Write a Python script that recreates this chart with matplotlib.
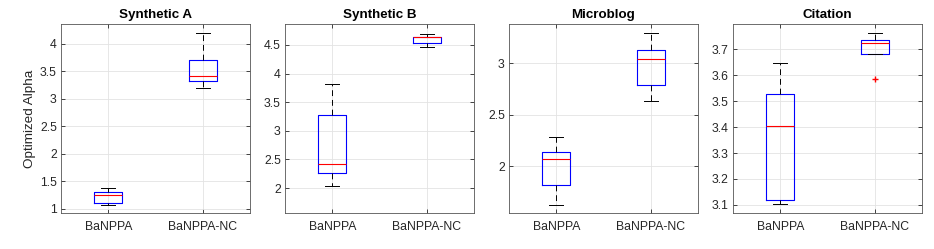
import matplotlib
matplotlib.use("Agg")
import matplotlib.pyplot as plt

plt.rcParams['font.family'] = ['Liberation Sans', 'DejaVu Sans']

titles = ["Synthetic A", "Synthetic B", "Microblog", "Citation"]
methods = ["BaNPPA", "BaNPPA-NC"]

# per panel: [BaNPPA, BaNPPA-NC]
whislo = [[1.073, 3.194], [2.029, 4.465], [1.625, 2.634], [3.103, 3.683]]
q1     = [[1.097, 3.333], [2.262, 4.529], [1.816, 2.790], [3.119, 3.683]]
med    = [[1.242, 3.424], [2.424, 4.634], [2.074, 3.039], [3.403, 3.723]]
q3     = [[1.303, 3.703], [3.279, 4.645], [2.142, 3.133], [3.529, 3.737]]
whishi = [[1.370, 4.206], [3.814, 4.686], [2.285, 3.298], [3.646, 3.764]]
fliers = [[[], []], [[], []], [[], []], [[], [3.587]]]

ylims = [(0.921, 4.364), (1.564, 4.866), (1.544, 3.382), (3.069, 3.797)]
yticks = [[1, 1.5, 2, 2.5, 3, 3.5, 4],
          [2, 2.5, 3, 3.5, 4, 4.5],
          [2, 2.5, 3],
          [3.1, 3.2, 3.3, 3.4, 3.5, 3.6, 3.7]]

fig = plt.figure(figsize=(9.34, 2.49), dpi=100)
lefts = [61, 285, 509, 733]
W, H = 934, 249
axc = '#262626'
for i in range(4):
    ax = fig.add_axes([lefts[i] / W, 1 - 213 / H, 189 / W, (213 - 24) / H])
    stats = []
    for j in range(2):
        stats.append(dict(whislo=whislo[i][j], q1=q1[i][j], med=med[i][j],
                          q3=q3[i][j], whishi=whishi[i][j], fliers=fliers[i][j],
                          label=methods[j]))
    ax.bxp(stats, positions=[1, 2], widths=0.3, capwidths=0.15,
           boxprops=dict(color='#0000ff', linewidth=0.8),
           medianprops=dict(color='#ff0000', linewidth=0.8),
           whiskerprops=dict(color='black', linewidth=0.7, linestyle=(0, (6, 4))),
           capprops=dict(color='black', linewidth=0.7),
           flierprops=dict(marker='+', markeredgecolor='#ff0000', markersize=5,
                           linestyle='none'))
    ax.set_xlim(0.5, 2.5)
    ax.set_ylim(*ylims[i])
    ax.set_yticks(yticks[i])
    ax.set_yticklabels([f"{t:g}" for t in yticks[i]])
    ax.set_xticks([1, 2])
    ax.set_xticklabels(methods)
    ax.grid(True, color='#e3e3e3', linewidth=0.6)
    ax.set_axisbelow(True)
    ax.tick_params(direction='in', length=3, width=0.6, colors=axc,
                   labelsize=8.8, top=True, right=True, pad=3)
    ax.tick_params(axis='x', pad=6)
    for s in ax.spines.values():
        s.set_color('#555555')
        s.set_linewidth(0.6)
    ax.set_title(titles[i], fontsize=9.6, fontweight='bold', color='black', pad=4)
    if i == 0:
        ax.set_ylabel("Optimized Alpha", fontsize=9.7, color=axc, labelpad=3)

fig.savefig("out.png", dpi=100)
